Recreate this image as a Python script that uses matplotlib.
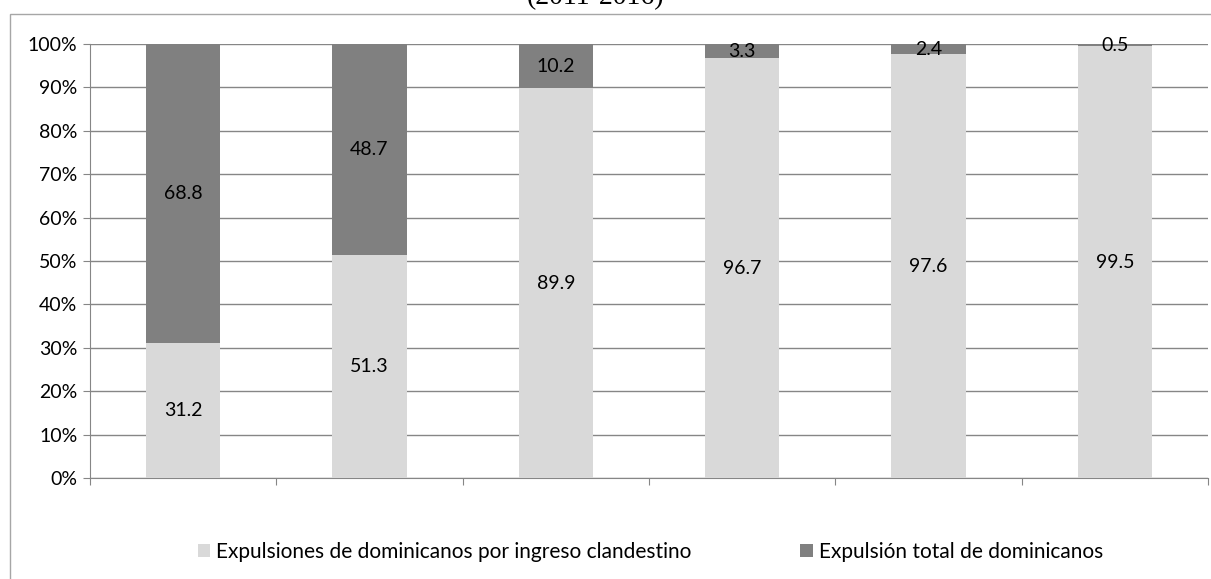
import matplotlib.pyplot as plt
import numpy as np
from matplotlib.patches import Rectangle, Patch

# Expulsiones por año (porcentaje de cada tipo)
years = ['2011', '2012', '2013', '2014', '2015', '2016']
clandestino = [31.2, 51.3, 89.9, 96.7, 97.6, 99.5]
total = [68.8, 48.7, 10.2, 3.3, 2.4, 0.5]
series_names = ['Expulsiones de dominicanos por ingreso clandestino',
                'Expulsión total de dominicanos']
title = '(2011-2016)'

light = '#d9d9d9'
dark = '#808080'
axis_col = '#868686'

plt.rcParams['font.family'] = ['Lato', 'DejaVu Sans']

fig = plt.figure(figsize=(12.11, 5.79), dpi=100)
fig.patch.set_facecolor('white')

# marco del gráfico
fig.patches.append(Rectangle((10 / 1211, -0.1), 1.2, 1 - 14 / 579 + 0.1,
                             transform=fig.transFigure, fill=False,
                             edgecolor='#a6a6a6', linewidth=1.0))

fig.text(595 / 1211, 1 - 4 / 579, title, family='Liberation Serif',
         fontsize=20, ha='center', va='baseline')

ax = fig.add_axes([90 / 1211, 1 - 478 / 579, 1118 / 1211, 434 / 579])

x = np.arange(len(years))
c = np.array(clandestino)
t = np.array(total)
s = c + t
c_pct = c / s * 100
t_pct = t / s * 100

ax.bar(x, c_pct, width=0.4, color=light, zorder=3)
ax.bar(x, t_pct, bottom=c_pct, width=0.4, color=dark, zorder=3)

for i in x:
    ax.text(i, c_pct[i] / 2, f'{clandestino[i]:.1f}', ha='center', va='center',
            fontsize=14, zorder=4)
    ax.text(i, c_pct[i] + t_pct[i] / 2, f'{total[i]:.1f}', ha='center',
            va='center', fontsize=14, zorder=4)

ax.set_xlim(-0.5, len(years) - 0.5)
ax.set_ylim(0, 100)
ax.set_yticks(np.arange(0, 101, 10))
ax.set_yticklabels([f'{v}%' for v in range(0, 101, 10)], fontsize=14)
ax.set_xticks(np.arange(-0.5, len(years), 1.0))
ax.set_xticklabels([])

ax.grid(axis='y', color=axis_col, linewidth=1.0, zorder=0)
for side in ['top', 'right']:
    ax.spines[side].set_visible(False)
for side in ['left', 'bottom']:
    ax.spines[side].set_color(axis_col)
ax.tick_params(axis='both', color=axis_col, length=5, direction='out')
ax.tick_params(axis='y', pad=4)

handles = [Patch(facecolor=light), Patch(facecolor=dark)]
fig.legend(handles, series_names, loc='center', bbox_to_anchor=(0.537, 1 - 552 / 579),
           ncol=2, frameon=False, fontsize=15, handlelength=0.6, handleheight=0.6,
           handletextpad=0.3, columnspacing=5.2, borderpad=0)

fig.savefig('out.png', dpi=100, facecolor='white')
plt.close(fig)
